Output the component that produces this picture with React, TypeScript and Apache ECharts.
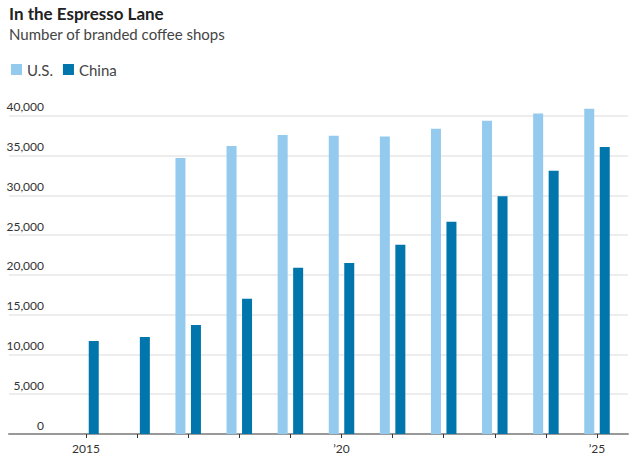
import React, { useEffect, useRef } from "react";
import * as echarts from "echarts";

const years = [2015, 2016, 2017, 2018, 2019, 2020, 2021, 2022, 2023, 2024, 2025];
const usValues: (number | null)[] = [null, null, 34700, 36200, 37600, 37500, 37400, 38400, 39400, 40300, 40900];
const chinaValues = [11700, 12200, 13700, 17000, 20900, 21500, 23800, 26700, 29900, 33100, 36100];
const yTicks = [0, 5000, 10000, 15000, 20000, 25000, 30000, 35000, 40000];
const xLabelYears = [2015, 2020, 2025];

const FONT = "Lato, 'Noto Sans', sans-serif";

export default function App() {
  const ref = useRef<HTMLDivElement>(null);
  useEffect(() => {
    if (!ref.current) return;
    const chart = echarts.init(ref.current, null, { renderer: "svg" });
    const usData = years
      .map((y, i) => [y, usValues[i]])
      .filter((d) => d[1] !== null);
    const chinaData = years.map((y, i) => [y, chinaValues[i]]);
    chart.setOption({
      animation: false,
      textStyle: { fontFamily: FONT },
      title: {
        text: "In the Espresso Lane",
        subtext: "Number of branded coffee shops",
        left: 4,
        top: 0,
        itemGap: 4,
        textStyle: { fontFamily: FONT, fontSize: 17, fontWeight: "bold", color: "#222" },
        subtextStyle: { fontFamily: FONT, fontSize: 15, color: "#444" },
      },
      legend: {
        left: 6,
        top: 57,
        icon: "rect",
        itemWidth: 11,
        itemHeight: 11,
        itemGap: 10,
        textStyle: { fontFamily: FONT, fontSize: 15, color: "#444" },
        data: ["U.S.", "China"],
      },
      grid: { left: 9, right: 9, top: 100, bottom: 25, containLabel: false },
      xAxis: {
        type: "value",
        min: 2015 - 77 / 51.1,
        max: 2025 + 31 / 51.1,
        splitLine: { show: false },
        axisLine: { show: true, lineStyle: { color: "#999", width: 2 } },
        axisTick: { show: true, customValues: years, length: 4, lineStyle: { color: "#333", width: 1 } },
        axisLabel: {
          customValues: xLabelYears,
          formatter: (v: number) => (v === 2015 ? "2015" : "\u2019" + String(v).slice(2)),
          fontFamily: FONT,
          fontSize: 12,
          color: "#333",
          margin: 8,
        },
      },
      yAxis: {
        type: "value",
        min: 0,
        max: 42000,
        axisLine: { show: false },
        axisTick: { show: false, customValues: yTicks },
        splitLine: { show: true, lineStyle: { color: "#ededed", width: 2 } },
        axisLabel: {
          customValues: yTicks,
          inside: true,
          align: "right",
          verticalAlign: "bottom",
          margin: 35,
          padding: [0, 0, 3, 0],
          fontFamily: FONT,
          fontSize: 12,
          color: "#333",
          formatter: (v: number) => v.toLocaleString("en-US"),
        },
      },
      series: [
        {
          name: "U.S.",
          type: "bar",
          data: usData,
          barWidth: 10,
          barGap: "55%",
          itemStyle: { color: "#94caee" },
        },
        {
          name: "China",
          type: "bar",
          data: chinaData,
          barWidth: 10,
          barGap: "55%",
          itemStyle: { color: "#0076ad" },
        },
      ],
    });
    return () => chart.dispose();
  }, []);
  return <div ref={ref} style={{ width: 637, height: 459, position: "absolute", left: 0, top: 0 }} />;
}
